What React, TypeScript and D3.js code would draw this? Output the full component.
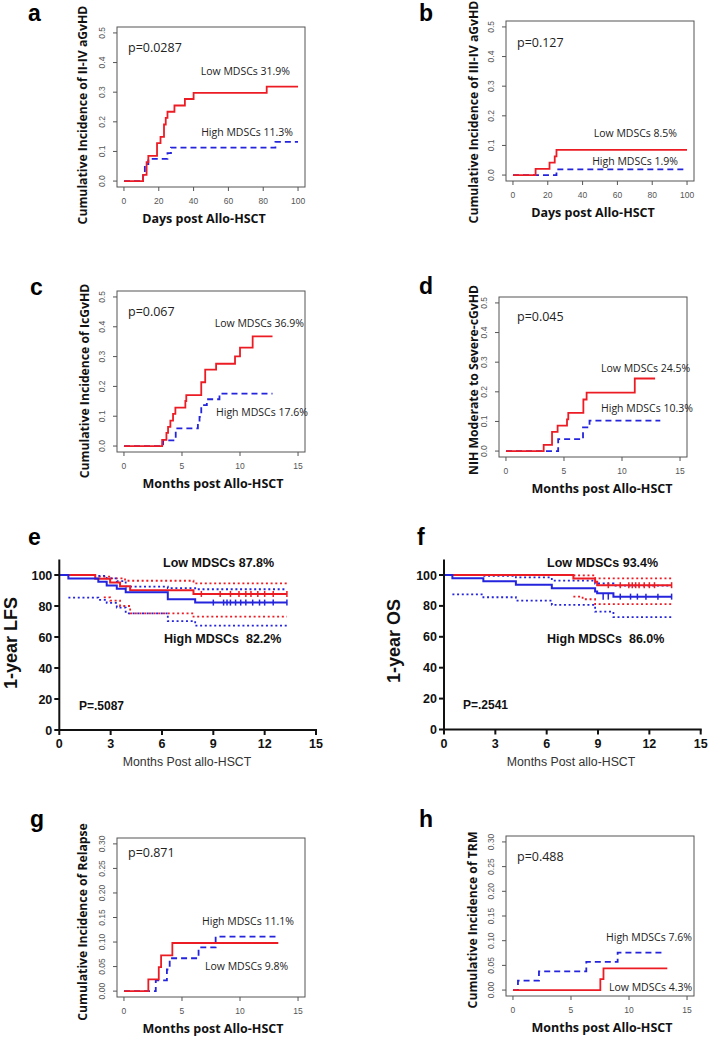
import React from "react";
import * as d3 from "d3";

type Pt = [number, number];

// ---------- Panel a: II-IV aGvHD (days) ----------
const aLow: Pt[] = [[0,0],[11,0.021],[13,0.064],[14,0.085],[19,0.128],[21,0.149],[23,0.191],[24,0.213],[25,0.234],[29,0.255],[35,0.277],[40,0.298],[82,0.319],[100,0.319]];
const aHigh: Pt[] = [[0,0],[11,0.019],[12,0.057],[14,0.075],[25,0.094],[27,0.113],[87,0.132],[100,0.132]];
// ---------- Panel b: III-IV aGvHD ----------
const bLow: Pt[] = [[0,0],[13,0.021],[21,0.042],[24,0.063],[25,0.085],[100,0.085]];
const bHigh: Pt[] = [[0,0],[25,0.019],[100,0.019]];
// ---------- Panel c: IcGvHD (months) ----------
const cLow: Pt[] = [[0,0],[3.29,0.021],[3.66,0.044],[3.8,0.064],[4.0,0.085],[4.23,0.108],[4.43,0.129],[5.29,0.151],[5.37,0.171],[6.66,0.214],[7.0,0.256],[7.94,0.276],[9.57,0.301],[10.0,0.33],[11.09,0.368],[12.8,0.368]];
const cHigh: Pt[] = [[0,0],[3.37,0.019],[4.46,0.059],[6.37,0.078],[6.51,0.098],[6.66,0.137],[7.14,0.157],[8.23,0.176],[12.8,0.176]];
// ---------- Panel d: NIH moderate to severe cGvHD ----------
const dLow: Pt[] = [[0,0],[3.25,0.021],[3.97,0.065],[4.45,0.086],[5.26,0.107],[5.37,0.129],[6.67,0.174],[6.95,0.197],[11.1,0.245],[12.85,0.245]];
const dHigh: Pt[] = [[0,0],[4.5,0.04],[6.64,0.08],[7.2,0.103],[13.3,0.103]];
// ---------- Panel g: Relapse ----------
const gLow: Pt[] = [[0,0],[2.1,0.024],[3.0,0.049],[3.2,0.073],[4.17,0.098],[13.3,0.098]];
const gHigh: Pt[] = [[0,0],[2.74,0.022],[3.7,0.044],[3.94,0.067],[6.43,0.089],[7.9,0.111],[13.3,0.111]];
// ---------- Panel h: TRM ----------
const hLow: Pt[] = [[0,0],[7.53,0.022],[7.8,0.044],[13.3,0.044]];
const hHigh: Pt[] = [[0,0],[0.43,0.019],[2.24,0.038],[6.32,0.057],[9.02,0.076],[13.1,0.076]];

// ---------- Panel e: 1-year LFS ----------
const eLow: Pt[] = [[0,100],[2.1,97.6],[2.97,95.1],[3.55,92.7],[4.14,90.2],[7.84,87.8],[13.3,87.8]];
const eHigh: Pt[] = [[0,100],[0.53,97.8],[2.28,95.6],[2.77,93.3],[3.36,91.1],[3.88,88.9],[6.34,84.4],[7.94,82.2],[13.3,82.2]];
const eLowUpper: Pt[] = [[2.3,98.9],[3.0,97.8],[3.84,96.3],[7.84,94.6],[13.3,94.6]];
const eLowLower: Pt[] = [[2.6,85.6],[2.97,83.5],[3.55,80.0],[4.14,75.3],[7.84,73.1],[13.3,73.1]];
const eHighUpper: Pt[] = [[2.28,99.4],[2.77,97.8],[3.36,96.0],[3.88,92.5],[6.34,91.5],[7.94,90.8],[13.3,90.8]];
const eHighLower: Pt[] = [[0.53,85.4],[2.28,84.0],[2.77,82.0],[3.36,79.0],[3.88,75.3],[6.34,70.3],[7.94,67.3],[13.3,67.3]];
const eLowCensor: number[] = [8.3,9.4,10.0,10.5,10.9,11.2,11.6,12.0,12.5,13.3];
const eHighCensor: number[] = [9.0,9.6,9.8,10.0,10.3,10.6,10.9,11.3,11.7,12.0,12.5,13.3];

// ---------- Panel f: 1-year OS ----------
const fLow: Pt[] = [[0,100],[7.56,97.8],[8.83,95.6],[8.95,93.4],[13.3,93.4]];
const fHigh: Pt[] = [[0,100],[0.49,97.9],[2.3,95.9],[4.2,93.7],[6.3,91.5],[8.83,89.3],[8.95,88.2],[9.9,86.0],[13.3,86.0]];
const fLowUpper: Pt[] = [[7.56,99.7],[8.83,97.8],[13.3,97.8]];
const fLowLower: Pt[] = [[7.56,86.0],[8.1,84.3],[8.83,81.1],[13.3,81.1]];
const fHighUpper: Pt[] = [[2.3,99.4],[4.2,98.4],[6.3,96.3],[8.83,94.5],[9.9,93.1],[13.3,93.1]];
const fHighLower: Pt[] = [[0.49,87.5],[2.3,85.6],[4.2,83.4],[6.3,80.6],[8.83,76.3],[9.9,72.7],[13.3,72.7]];
const fLowCensor: number[] = [9.6,10.3,10.8,11.0,11.2,11.4,11.7,12.0,12.3,13.3];
const fHighCensor: number[] = [9.3,9.6,10.3,10.9,11.3,11.8,12.5,13.3];

// ---------- Tick values ----------
const daysTicks: number[] = [0,20,40,60,80,100];
const monthTicks5: number[] = [0,5,10,15];
const yTicksHalf: number[] = [0,0.1,0.2,0.3,0.4,0.5];
const yTicks30: number[] = [0,0.05,0.1,0.15,0.2,0.25,0.3];
const prismXTicks: number[] = [0,3,6,9,12,15];
const prismYTicks: number[] = [0,20,40,60,80,100];

const RED = "#ec1c24";
const BLUE = "#2424dc";
const GRAY = "#555";
const RFONT = "'Open Sans', 'Noto Sans', sans-serif";
const AFONT = "'Liberation Sans', Arial, sans-serif";

type RCfg = {
  letter: string; lx: number; ly: number;
  box: { l: number; t: number; r: number; b: number };
  xDom: [number, number]; xTicks: number[];
  yDom: [number, number]; yTicks: number[]; yFmt: string;
  low: Pt[]; high: Pt[];
  xTitle: string; xTitleX: number;
  yTitle: string; yTitleX: number; yTitleY: number;
  pText: string; px: number; py: number;
  lowText: string; lowX: number; lowY: number; lowAnchor: string;
  highText: string; highX: number; highY: number; highAnchor: string;
};

const rPanels: RCfg[] = [
  { letter: "a", lx: 28, ly: 21, box: { l: 117, t: 27, r: 305, b: 187 }, xDom: [0, 100], xTicks: daysTicks, yDom: [0, 0.5], yTicks: yTicksHalf, yFmt: ".1f", low: aLow, high: aHigh,
    xTitle: "Days post Allo-HSCT", xTitleX: 204, yTitle: "Cumulative Incidence of II-IV aGvHD", yTitleX: 87, yTitleY: 115,
    pText: "p=0.0287", px: 128, py: 52, lowText: "Low MDSCs 31.9%", lowX: 290, lowY: 75, lowAnchor: "end", highText: "High MDSCs 11.3%", highX: 293, highY: 136, highAnchor: "end" },
  { letter: "b", lx: 419, ly: 21, box: { l: 506, t: 21, r: 694, b: 181 }, xDom: [0, 100], xTicks: daysTicks, yDom: [0, 0.5], yTicks: yTicksHalf, yFmt: ".1f", low: bLow, high: bHigh,
    xTitle: "Days post Allo-HSCT", xTitleX: 593, yTitle: "Cumulative Incidence of III-IV aGvHD", yTitleX: 478, yTitleY: 112,
    pText: "p=0.127", px: 517, py: 47, lowText: "Low MDSCs 8.5%", lowX: 677, lowY: 137, lowAnchor: "end", highText: "High MDSCs 1.9%", highX: 678, highY: 165, highAnchor: "end" },
  { letter: "c", lx: 30, ly: 295, box: { l: 117, t: 291, r: 305, b: 452 }, xDom: [0, 15], xTicks: monthTicks5, yDom: [0, 0.5], yTicks: yTicksHalf, yFmt: ".1f", low: cLow, high: cHigh,
    xTitle: "Months post Allo-HSCT", xTitleX: 213, yTitle: "Cumulative Incidence of IcGvHD", yTitleX: 89, yTitleY: 381,
    pText: "p=0.067", px: 128, py: 316, lowText: "Low MDSCs 36.9%", lowX: 304, lowY: 327, lowAnchor: "end", highText: "High MDSCs 17.6%", highX: 216, highY: 416, highAnchor: "start" },
  { letter: "d", lx: 419, ly: 294, box: { l: 499, t: 297, r: 687, b: 457 }, xDom: [0, 15], xTicks: monthTicks5, yDom: [0, 0.5], yTicks: yTicksHalf, yFmt: ".1f", low: dLow, high: dHigh,
    xTitle: "Months post Allo-HSCT", xTitleX: 602, yTitle: "NIH Moderate to Severe-cGvHD", yTitleX: 478, yTitleY: 380,
    pText: "p=0.045", px: 517, py: 321, lowText: "Low MDSCs 24.5%", lowX: 601, lowY: 372, lowAnchor: "start", highText: "High MDSCs 10.3%", highX: 601, highY: 412, highAnchor: "start" },
  { letter: "g", lx: 30, ly: 827, box: { l: 117, t: 838, r: 305, b: 997 }, xDom: [0, 15], xTicks: monthTicks5, yDom: [0, 0.3], yTicks: yTicks30, yFmt: ".2f", low: gLow, high: gHigh,
    xTitle: "Months post Allo-HSCT", xTitleX: 213, yTitle: "Cumulative Incidence of Relapse", yTitleX: 87, yTitleY: 922,
    pText: "p=0.871", px: 128, py: 857, lowText: "Low MDSCs 9.8%", lowX: 205, lowY: 970, lowAnchor: "start", highText: "High MDSCs 11.1%", highX: 202, highY: 925, highAnchor: "start" },
  { letter: "h", lx: 419, ly: 827, box: { l: 506, t: 836, r: 694, b: 996 }, xDom: [0, 15], xTicks: monthTicks5, yDom: [0, 0.3], yTicks: yTicks30, yFmt: ".2f", low: hLow, high: hHigh,
    xTitle: "Months post Allo-HSCT", xTitleX: 602, yTitle: "Cumulative Incidence of TRM", yTitleX: 477, yTitleY: 920,
    pText: "p=0.488", px: 517, py: 861, lowText: "Low MDSCs 4.3%", lowX: 609, lowY: 991, lowAnchor: "start", highText: "High MDSCs 7.6%", highX: 606, highY: 941, highAnchor: "start" },
];

function RPanel({ c }: { c: RCfg }) {
  const xr = c.xDom[1] - c.xDom[0];
  const yr = c.yDom[1] - c.yDom[0];
  const x = d3.scaleLinear().domain([c.xDom[0] - 0.04 * xr, c.xDom[1] + 0.04 * xr]).range([c.box.l, c.box.r]);
  const y = d3.scaleLinear().domain([c.yDom[0] - 0.04 * yr, c.yDom[1] + 0.04 * yr]).range([c.box.b, c.box.t]);
  const line = d3.line<Pt>().x((d) => x(d[0])).y((d) => y(d[1])).curve(d3.curveStepAfter);
  const fmt = d3.format(c.yFmt);
  const tl = 4;
  return (
    <g>
      <text x={c.lx} y={c.ly} fontFamily={AFONT} fontWeight="bold" fontSize={23}>{c.letter}</text>
      <rect x={c.box.l} y={c.box.t} width={c.box.r - c.box.l} height={c.box.b - c.box.t} fill="none" stroke={GRAY} strokeWidth={1} />
      {c.xTicks.map((t) => (
        <g key={"x" + t}>
          <line x1={x(t)} x2={x(t)} y1={c.box.b} y2={c.box.b + tl} stroke={GRAY} />
          <text x={x(t)} y={c.box.b + 17} textAnchor="middle" fontFamily={AFONT} fontSize={8.5} fill={GRAY}>{t}</text>
        </g>
      ))}
      {c.yTicks.map((t) => (
        <g key={"y" + t}>
          <line x1={c.box.l - tl} x2={c.box.l} y1={y(t)} y2={y(t)} stroke={GRAY} />
          <text transform={`translate(${c.box.l - 12},${y(t)}) rotate(-90)`} textAnchor="middle" fontFamily={AFONT} fontSize={8.5} fill={GRAY}>{fmt(t)}</text>
        </g>
      ))}
      <path d={line(c.high) || ""} fill="none" stroke={BLUE} strokeWidth={1.8} strokeDasharray="6,4" />
      <path d={line(c.low) || ""} fill="none" stroke={RED} strokeWidth={1.8} />
      <text x={c.px} y={c.py} fontFamily={RFONT} fontSize={12.5} fill="#222">{c.pText}</text>
      <text x={c.lowX} y={c.lowY} textAnchor={c.lowAnchor as any} fontFamily={RFONT} fontSize={10.5} fill="#222">{c.lowText}</text>
      <text x={c.highX} y={c.highY} textAnchor={c.highAnchor as any} fontFamily={RFONT} fontSize={10.5} fill="#222">{c.highText}</text>
      <text x={c.xTitleX} y={c.box.b + 36} textAnchor="middle" fontFamily={RFONT} fontWeight="bold" fontSize={12.5} fill="#111">{c.xTitle}</text>
      <text transform={`translate(${c.yTitleX},${c.yTitleY}) rotate(-90)`} textAnchor="middle" fontFamily={RFONT} fontWeight="bold" fontSize={12.2} fill="#111">{c.yTitle}</text>
    </g>
  );
}

type PCfg = {
  letter: string; lx: number; ly: number;
  x0: number; x15: number; y0: number; y100: number;
  low: Pt[]; high: Pt[]; lowU: Pt[]; lowL: Pt[]; highU: Pt[]; highL: Pt[];
  lowC: number[]; highC: number[];
  yTitle: string; yTitleX: number; yTitleY: number; xTitleX: number;
  pText: string; px: number; py: number;
  lowText: string; lowX: number; lowY: number;
  highText: string; highX: number; highY: number;
};

const pPanels: PCfg[] = [
  { letter: "e", lx: 28, ly: 545, x0: 59.3, x15: 316, y0: 730, y100: 575, low: eLow, high: eHigh, lowU: eLowUpper, lowL: eLowLower, highU: eHighUpper, highL: eHighLower,
    lowC: eLowCensor, highC: eHighCensor, yTitle: "1-year LFS", yTitleX: 17, yTitleY: 643, xTitleX: 187,
    pText: "P=.5087", px: 79, py: 710, lowText: "Low MDSCs 87.8%", lowX: 163, lowY: 567, highText: "High MDSCs  82.2%", highX: 164, highY: 643 },
  { letter: "f", lx: 417, ly: 545, x0: 444, x15: 700.7, y0: 729.5, y100: 575, low: fLow, high: fHigh, lowU: fLowUpper, lowL: fLowLower, highU: fHighUpper, highL: fHighLower,
    lowC: fLowCensor, highC: fHighCensor, yTitle: "1-year OS", yTitleX: 400, yTitleY: 641, xTitleX: 571,
    pText: "P=.2541", px: 463, py: 709, lowText: "Low MDSCs 93.4%", lowX: 547, lowY: 567, highText: "High MDSCs  86.0%", highX: 547, highY: 643 },
];

function PPanel({ c }: { c: PCfg }) {
  const x = d3.scaleLinear().domain([0, 15]).range([c.x0, c.x15]);
  const y = d3.scaleLinear().domain([0, 100]).range([c.y0, c.y100]);
  const line = d3.line<Pt>().x((d) => x(d[0])).y((d) => y(d[1])).curve(d3.curveStepAfter);
  const lastY = (s: Pt[]) => s[s.length - 1][1];
  const dots = "2,2.7";
  return (
    <g>
      <text x={c.lx} y={c.ly} fontFamily={AFONT} fontWeight="bold" fontSize={23}>{c.letter}</text>
      <path d={line(c.lowU) || ""} fill="none" stroke={RED} strokeWidth={1.8} strokeDasharray={dots} />
      <path d={line(c.lowL) || ""} fill="none" stroke={RED} strokeWidth={1.8} strokeDasharray={dots} />
      <path d={line(c.highU) || ""} fill="none" stroke={BLUE} strokeWidth={1.8} strokeDasharray={dots} />
      <path d={line(c.highL) || ""} fill="none" stroke={BLUE} strokeWidth={1.8} strokeDasharray={dots} />
      <path d={line(c.low) || ""} fill="none" stroke={RED} strokeWidth={2} />
      <path d={line(c.high) || ""} fill="none" stroke={BLUE} strokeWidth={2} />
      {c.lowC.map((t, i) => (
        <line key={"lc" + i} x1={x(t)} x2={x(t)} y1={y(lastY(c.low)) - 3} y2={y(lastY(c.low)) + 3} stroke={RED} strokeWidth={1.5} />
      ))}
      {c.highC.map((t, i) => (
        <line key={"hc" + i} x1={x(t)} x2={x(t)} y1={y(lastY(c.high)) - 3} y2={y(lastY(c.high)) + 3} stroke={BLUE} strokeWidth={1.5} />
      ))}
      <line x1={x(0)} x2={x(0)} y1={y(0) + 1} y2={y(110)} stroke="#111" strokeWidth={2} />
      <line x1={x(0) - 1} x2={x(15) + 1} y1={y(0)} y2={y(0)} stroke="#111" strokeWidth={2} />
      {prismYTicks.map((t) => (
        <g key={"py" + t}>
          <line x1={x(0) - 5} x2={x(0)} y1={y(t)} y2={y(t)} stroke="#111" strokeWidth={2} />
          <text x={x(0) - 7} y={y(t) + 4.5} textAnchor="end" fontFamily={AFONT} fontWeight="bold" fontSize={12.5} fill="#111">{t}</text>
        </g>
      ))}
      {prismXTicks.map((t) => (
        <g key={"px" + t}>
          <line x1={x(t)} x2={x(t)} y1={y(0)} y2={y(0) + 5} stroke="#111" strokeWidth={2} />
          <text x={x(t)} y={y(0) + 18} textAnchor="middle" fontFamily={AFONT} fontWeight="bold" fontSize={12.5} fill="#111">{t}</text>
        </g>
      ))}
      <text x={c.xTitleX} y={y(0) + 36} textAnchor="middle" fontFamily={AFONT} fontSize={12.3} fill="#333">Months Post allo-HSCT</text>
      <text transform={`translate(${c.yTitleX},${c.yTitleY}) rotate(-90)`} textAnchor="middle" fontFamily={AFONT} fontWeight="bold" fontSize={18} fill="#111">{c.yTitle}</text>
      <text x={c.px} y={c.py} fontFamily={AFONT} fontWeight="bold" fontSize={12} fill="#111">{c.pText}</text>
      <text x={c.lowX} y={c.lowY} fontFamily={AFONT} fontWeight="bold" fontSize={12.5} fill="#111">{c.lowText}</text>
      <text x={c.highX} y={c.highY} fontFamily={AFONT} fontWeight="bold" fontSize={12.5} fill="#111" style={{ whiteSpace: "pre" }}>{c.highText}</text>
    </g>
  );
}

export default function App() {
  return (
    <svg width={708} height={1040} style={{ position: "absolute", left: 0, top: 0, background: "#fff" }}>
      <rect x={0} y={0} width={708} height={1040} fill="#fff" />
      {rPanels.map((c) => <RPanel key={c.letter} c={c} />)}
      {pPanels.map((c) => <PPanel key={c.letter} c={c} />)}
    </svg>
  );
}
